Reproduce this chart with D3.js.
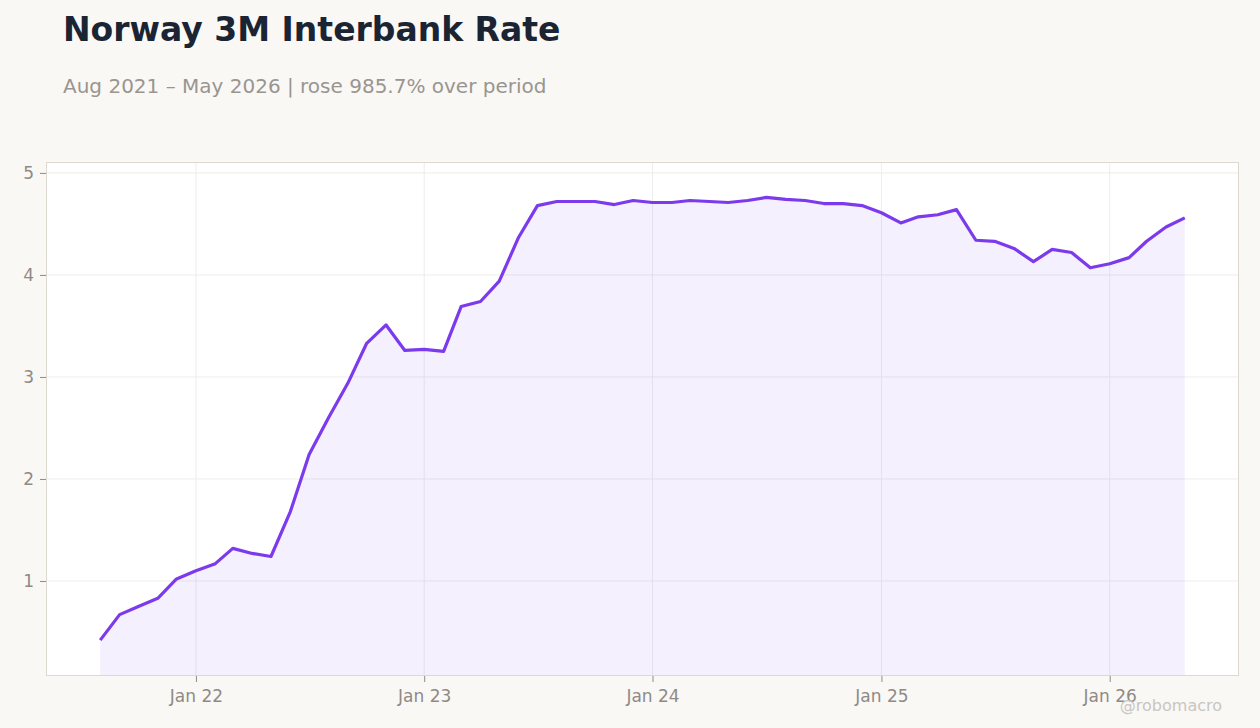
<!DOCTYPE html>
<html>
<head>
<meta charset="utf-8">
<script src="https://cdn.jsdelivr.net/npm/d3@7/dist/d3.min.js"></script>
<style>
  html, body { margin: 0; padding: 0; background: #f9f8f5; }
  svg { display: block; font-family: "DejaVu Sans", sans-serif; }
</style>
</head>
<body>
<svg id="chart" width="1260" height="728"></svg>
<script>
// ---- data ----
const startMonth = "2021-08";
const rates = [
  0.42, 0.67, 0.75, 0.83, 1.02,
  1.10, 1.17, 1.32, 1.27, 1.24, 1.68, 2.24, 2.60, 2.94, 3.33, 3.51, 3.26,
  3.27, 3.25, 3.69, 3.74, 3.94, 4.37, 4.68, 4.72, 4.72, 4.72, 4.69, 4.73,
  4.71, 4.71, 4.73, 4.72, 4.71, 4.73, 4.76, 4.74, 4.73, 4.70, 4.70, 4.68,
  4.61, 4.51, 4.57, 4.59, 4.64, 4.34, 4.33, 4.26, 4.13, 4.25, 4.22, 4.07,
  4.11, 4.17, 4.33, 4.47, 4.56
];
const yTicks = [1, 2, 3, 4, 5];
const xTickLabels = ["Jan 22", "Jan 23", "Jan 24", "Jan 25", "Jan 26"];
const title = "Norway 3M Interbank Rate";
const subtitle = "Aug 2021 \u2013 May 2026 | rose 985.7% over period";
const watermark = "@robomacro";

// ---- build ----
const parse = d3.timeParse("%Y-%m");
const t0 = parse(startMonth);
const data = rates.map((v, i) => ({ date: d3.timeMonth.offset(t0, i), value: v }));
const xTickDates = xTickLabels.map(s => new Date(2000 + +s.slice(4), 0, 1));

const svg = d3.select("#chart");
const W = 1260, H = 728;
const plot = { left: 46, top: 162, right: 1239, bottom: 676 };

svg.append("rect").attr("width", W).attr("height", H).attr("fill", "#f9f8f5");

const xExt = d3.extent(data, d => d.date);
const xSpan = xExt[1] - xExt[0];
const x = d3.scaleTime()
  .domain([new Date(+xExt[0] - xSpan * 0.05), new Date(+xExt[1] + xSpan * 0.05)])
  .range([plot.left, plot.right]);

const yExt = d3.extent(data, d => d.value);
const ySpan = yExt[1] - yExt[0];
const y = d3.scaleLinear()
  .domain([yExt[0] - ySpan * 0.081, yExt[1] + ySpan * 0.08])
  .range([plot.bottom, plot.top]);

// plot background
svg.append("rect")
  .attr("x", plot.left).attr("y", plot.top)
  .attr("width", plot.right - plot.left).attr("height", plot.bottom - plot.top)
  .attr("fill", "#ffffff");

// gridlines
const grid = svg.append("g");
grid.selectAll("line.h").data(yTicks).join("line")
  .attr("x1", plot.left).attr("x2", plot.right)
  .attr("y1", d => y(d)).attr("y2", d => y(d))
  .attr("stroke", "#ebe9e6").attr("stroke-width", 0.8);
grid.selectAll("line.v").data(xTickDates).join("line")
  .attr("y1", plot.top).attr("y2", plot.bottom)
  .attr("x1", d => x(d)).attr("x2", d => x(d))
  .attr("stroke", "#ebe9e6").attr("stroke-width", 0.8);

// area + line
const area = d3.area().x(d => x(d.date)).y0(plot.bottom).y1(d => y(d.value));
svg.append("path").datum(data).attr("d", area)
  .attr("fill", "#7c3aed").attr("fill-opacity", 0.08);
const line = d3.line().x(d => x(d.date)).y(d => y(d.value));
svg.append("path").datum(data).attr("d", line)
  .attr("fill", "none").attr("stroke", "#7c3aed").attr("stroke-width", 3.2)
  .attr("stroke-linejoin", "round").attr("stroke-linecap", "butt");

// frame
svg.append("rect")
  .attr("x", plot.left + 0.5).attr("y", plot.top + 0.5)
  .attr("width", plot.right - plot.left - 1).attr("height", plot.bottom - plot.top - 1)
  .attr("fill", "none").attr("stroke", "#ddd8d0").attr("stroke-width", 1);

// axes
const yAxis = d3.axisLeft(y).tickValues(yTicks).tickFormat(d3.format("d")).tickSize(6).tickPadding(6);
const gy = svg.append("g").attr("transform", `translate(${plot.left},0)`).call(yAxis);
const xAxis = d3.axisBottom(x).tickValues(xTickDates).tickFormat((d, i) => xTickLabels[i]).tickSize(6).tickPadding(8);
const gx = svg.append("g").attr("transform", `translate(0,${plot.bottom})`).call(xAxis);
[gy, gx].forEach(g => {
  g.select(".domain").remove();
  g.selectAll(".tick line").attr("stroke", "#8f8a85").attr("stroke-width", 1);
  g.selectAll(".tick text").attr("fill", "#8f8a85").attr("font-size", 17)
    .attr("font-family", "DejaVu Sans, sans-serif");
});

// titles
svg.append("text").attr("x", 63).attr("y", 41).text(title)
  .attr("font-size", 33).attr("font-weight", "bold").attr("fill", "#1b2433");
svg.append("text").attr("x", 63).attr("y", 93).text(subtitle)
  .attr("font-size", 20).attr("fill", "#9a9590");
svg.append("text").attr("x", 1222).attr("y", 711).attr("text-anchor", "end").text(watermark)
  .attr("font-size", 16).attr("fill", "#c9c6c2");
</script>
</body>
</html>
